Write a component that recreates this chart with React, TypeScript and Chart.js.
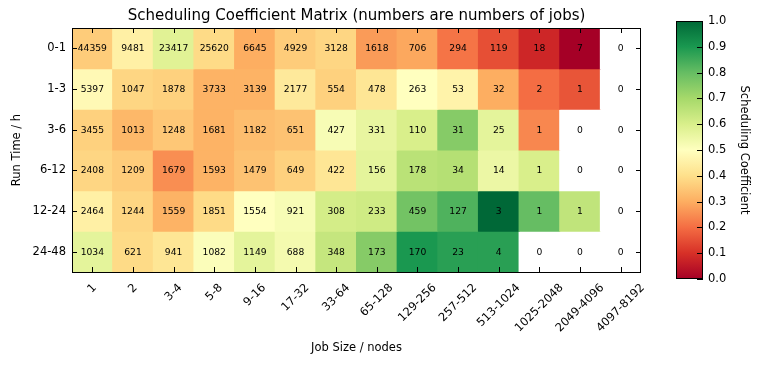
import React, { useEffect, useRef } from 'react';
import { Chart, registerables } from 'chart.js';

Chart.register(...registerables);

// ---------- data ----------
const jobSizes = ['1', '2', '3-4', '5-8', '9-16', '17-32', '33-64', '65-128', '129-256', '257-512', '513-1024', '1025-2048', '2049-4096', '4097-8192'];
const runTimes = ['0-1', '1-3', '3-6', '6-12', '12-24', '24-48'];

const jobs_0_1 = [44359, 9481, 23417, 25620, 6645, 4929, 3128, 1618, 706, 294, 119, 18, 7, 0];
const jobs_1_3 = [5397, 1047, 1878, 3733, 3139, 2177, 554, 478, 263, 53, 32, 2, 1, 0];
const jobs_3_6 = [3455, 1013, 1248, 1681, 1182, 651, 427, 331, 110, 31, 25, 1, 0, 0];
const jobs_6_12 = [2408, 1209, 1679, 1593, 1479, 649, 422, 156, 178, 34, 14, 1, 0, 0];
const jobs_12_24 = [2464, 1244, 1559, 1851, 1554, 921, 308, 233, 459, 127, 3, 1, 1, 0];
const jobs_24_48 = [1034, 621, 941, 1082, 1149, 688, 348, 173, 170, 23, 4, 0, 0, 0];

// scheduling coefficient (null = no jobs, drawn white)
const coef_0_1 = [0.36, 0.45, 0.58, 0.39, 0.30, 0.36, 0.38, 0.27, 0.29, 0.21, 0.15, 0.08, 0.0, null];
const coef_1_3 = [0.48, 0.38, 0.37, 0.31, 0.31, 0.43, 0.37, 0.42, 0.50, 0.46, 0.30, 0.20, 0.16, null];
const coef_3_6 = [0.37, 0.32, 0.35, 0.31, 0.33, 0.34, 0.52, 0.56, 0.60, 0.75, 0.57, 0.24, null, null];
const coef_6_12 = [0.38, 0.36, 0.25, 0.31, 0.34, 0.37, 0.42, 0.57, 0.66, 0.67, 0.55, 0.60, null, null];
const coef_12_24 = [0.45, 0.38, 0.31, 0.39, 0.50, 0.52, 0.61, 0.62, 0.78, 0.83, 1.0, 0.80, 0.65, null];
const coef_24_48 = [0.57, 0.39, 0.42, 0.51, 0.57, 0.53, 0.64, 0.75, 0.90, 0.88, 0.88, null, null, null];

const jobRows = [jobs_0_1, jobs_1_3, jobs_3_6, jobs_6_12, jobs_12_24, jobs_24_48];
const coefRows = [coef_0_1, coef_1_3, coef_3_6, coef_6_12, coef_12_24, coef_24_48];

const colorbarTicks = [0, 0.1, 0.2, 0.3, 0.4, 0.5, 0.6, 0.7, 0.8, 0.9, 1.0];

const TITLE = 'Scheduling Coefficient Matrix (numbers are numbers of jobs)';
const X_TITLE = 'Job Size / nodes';
const Y_TITLE = 'Run Time / h';
const CB_TITLE = 'Scheduling Coefficient';

// RdYlGn colormap
const RDYLGN: [number, number, number][] = [
  [165, 0, 38], [215, 48, 39], [244, 109, 67], [253, 174, 97], [254, 224, 139],
  [255, 255, 191], [217, 239, 139], [166, 217, 106], [102, 189, 99], [26, 152, 80], [0, 104, 55],
];

function cmap(v: number | null): string {
  if (v === null || v === undefined) return '#ffffff';
  const t = Math.max(0, Math.min(1, v)) * 10;
  const i = Math.min(9, Math.floor(t));
  const f = t - i;
  const a = RDYLGN[i], b = RDYLGN[i + 1];
  const c = a.map((x, k) => Math.round(x + (b[k] - x) * f));
  return `rgb(${c[0]},${c[1]},${c[2]})`;
}

const FONT = '"DejaVu Sans", sans-serif';
const TICK_SIZE = 11.5;

export default function App() {
  const mainRef = useRef<HTMLCanvasElement>(null);
  const cbRef = useRef<HTMLCanvasElement>(null);

  useEffect(() => {
    document.body.style.margin = '0';
    Chart.defaults.font.family = FONT;

    const decor = {
      id: 'decor',
      afterDraw(chart: any) {
        const { ctx, chartArea } = chart;
        const xs = chart.scales.x;
        const ys = chart.scales.y;
        const { left, right, top, bottom } = chartArea;
        ctx.save();
        // cell numbers
        ctx.fillStyle = '#000';
        ctx.font = `9.2px ${FONT}`;
        ctx.textAlign = 'center';
        ctx.textBaseline = 'middle';
        jobRows.forEach((row, r) => {
          row.forEach((n, i) => {
            ctx.fillText(String(n), xs.getPixelForValue(i), ys.getPixelForValue(r + 0.5) + 0.5);
          });
        });
        // frame
        ctx.strokeStyle = '#000';
        ctx.lineWidth = 1;
        ctx.strokeRect(Math.round(left) + 0.5, Math.round(top) + 0.5, Math.round(right - left) - 1, Math.round(bottom - top));
        // inward ticks
        ctx.beginPath();
        jobSizes.forEach((_, i) => {
          const x = Math.round(xs.getPixelForValue(i)) + 0.5;
          ctx.moveTo(x, top); ctx.lineTo(x, top + 5);
          ctx.moveTo(x, bottom); ctx.lineTo(x, bottom - 5);
        });
        runTimes.forEach((_, r) => {
          const y = Math.round(ys.getPixelForValue(r + 0.5)) + 0.5;
          ctx.moveTo(left, y); ctx.lineTo(left + 5, y);
          ctx.moveTo(right, y); ctx.lineTo(right - 5, y);
        });
        ctx.stroke();
        // title
        ctx.font = `15px ${FONT}`;
        ctx.textAlign = 'center';
        ctx.textBaseline = 'middle';
        ctx.fillText(TITLE, (left + right) / 2, 16);
        // x tick labels, rotated 45 deg, bbox centred on tick
        ctx.font = `${TICK_SIZE}px ${FONT}`;
        const ang = Math.PI / 4;
        jobSizes.forEach((lab, i) => {
          const w = ctx.measureText(lab).width;
          const h = TICK_SIZE * 0.95;
          const W = (w + h) * Math.cos(ang);
          const cx = xs.getPixelForValue(i);
          const cy = bottom + 10 + W / 2;
          ctx.save();
          ctx.translate(cx, cy);
          ctx.rotate(-ang);
          ctx.textAlign = 'center';
          ctx.textBaseline = 'middle';
          ctx.fillText(lab, 0, 0);
          ctx.restore();
        });
        // x title
        ctx.font = `${TICK_SIZE}px ${FONT}`;
        ctx.textAlign = 'center';
        ctx.textBaseline = 'middle';
        ctx.fillText(X_TITLE, (left + right) / 2, 348);
        ctx.restore();
      },
    };

    const main = new Chart(mainRef.current!, {
      type: 'bar',
      data: {
        labels: jobSizes,
        datasets: runTimes.map((rt, r) => ({
          label: rt,
          data: jobSizes.map(() => 1),
          backgroundColor: coefRows[r].map(cmap),
          borderWidth: 0,
          barPercentage: 1,
          categoryPercentage: 1,
          inflateAmount: 0.5,
        })),
      },
      options: {
        responsive: false,
        animation: false,
        events: [],
        layout: { padding: { top: 28, right: 117, bottom: 93, left: 0 } },
        plugins: { legend: { display: false }, tooltip: { enabled: false }, title: { display: false } },
        scales: {
          x: { type: 'category', stacked: true, display: false },
          y: {
            type: 'linear',
            stacked: true,
            min: 0,
            max: 6,
            reverse: true,
            grid: { display: false, drawTicks: false },
            border: { display: false },
            afterBuildTicks: (s: any) => {
              s.ticks = runTimes.map((_, r) => ({ value: r + 0.5 }));
            },
            afterFit: (s: any) => { s.width = 72; },
            ticks: {
              autoSkip: false,
              padding: 6,
              color: '#000',
              font: { size: TICK_SIZE, family: FONT },
              callback: (v: any) => runTimes[Math.floor(Number(v))],
            },
            title: {
              display: true,
              text: Y_TITLE,
              color: '#000',
              font: { size: TICK_SIZE, family: FONT },
              padding: { top: 10.5, bottom: 0 },
            },
          },
        },
      },
      plugins: [decor],
    } as any);

    const cbPlugin = {
      id: 'cbdraw',
      beforeDatasetsDraw(chart: any) {
        const { ctx, chartArea } = chart;
        const ys = chart.scales.y;
        const y0 = ys.getPixelForValue(0);
        const y1 = ys.getPixelForValue(1);
        const g = ctx.createLinearGradient(0, y0, 0, y1);
        RDYLGN.forEach((c, i) => g.addColorStop(i / 10, `rgb(${c[0]},${c[1]},${c[2]})`));
        ctx.save();
        ctx.fillStyle = g;
        ctx.fillRect(chartArea.left, y1, chartArea.right - chartArea.left, y0 - y1);
        ctx.strokeStyle = '#000';
        ctx.lineWidth = 1;
        ctx.strokeRect(Math.round(chartArea.left) + 0.5, Math.round(y1) + 0.5, Math.round(chartArea.right - chartArea.left) - 1, Math.round(y0 - y1) - 1);
        ctx.beginPath();
        colorbarTicks.forEach((v) => {
          const y = Math.round(ys.getPixelForValue(v)) + 0.5;
          ctx.moveTo(chartArea.right, y);
          ctx.lineTo(chartArea.right - 6, y);
        });
        ctx.stroke();
        ctx.restore();
      },
    };

    const cb = new Chart(cbRef.current!, {
      type: 'bar',
      data: { labels: [''], datasets: [] },
      options: {
        responsive: false,
        animation: false,
        events: [],
        layout: { padding: { top: 21, right: 0, bottom: 86, left: 36 } },
        plugins: { legend: { display: false }, tooltip: { enabled: false } },
        scales: {
          x: { display: false },
          y: {
            type: 'linear',
            position: 'right',
            min: 0,
            max: 1,
            grid: { display: false, drawTicks: false },
            border: { display: false },
            afterBuildTicks: (s: any) => {
              s.ticks = colorbarTicks.map((v) => ({ value: v }));
            },
            afterFit: (s: any) => { s.width = 55; },
            ticks: {
              autoSkip: false,
              padding: 5,
              color: '#000',
              font: { size: TICK_SIZE, family: FONT },
              callback: (v: any) => Number(v).toFixed(1),
            },
            title: {
              display: true,
              text: CB_TITLE,
              color: '#000',
              font: { size: TICK_SIZE, family: FONT },
              padding: { top: 7.5, bottom: 0 },
            },
          },
        },
      },
      plugins: [cbPlugin],
    } as any);

    return () => {
      main.destroy();
      cb.destroy();
    };
  }, []);

  return (
    <div style={{ position: 'relative', width: 758, height: 365, background: '#fff' }}>
      <canvas ref={mainRef} width={758} height={365} style={{ position: 'absolute', left: 0, top: 0 }} />
      <canvas ref={cbRef} width={118} height={365} style={{ position: 'absolute', left: 640, top: 0 }} />
    </div>
  );
}
